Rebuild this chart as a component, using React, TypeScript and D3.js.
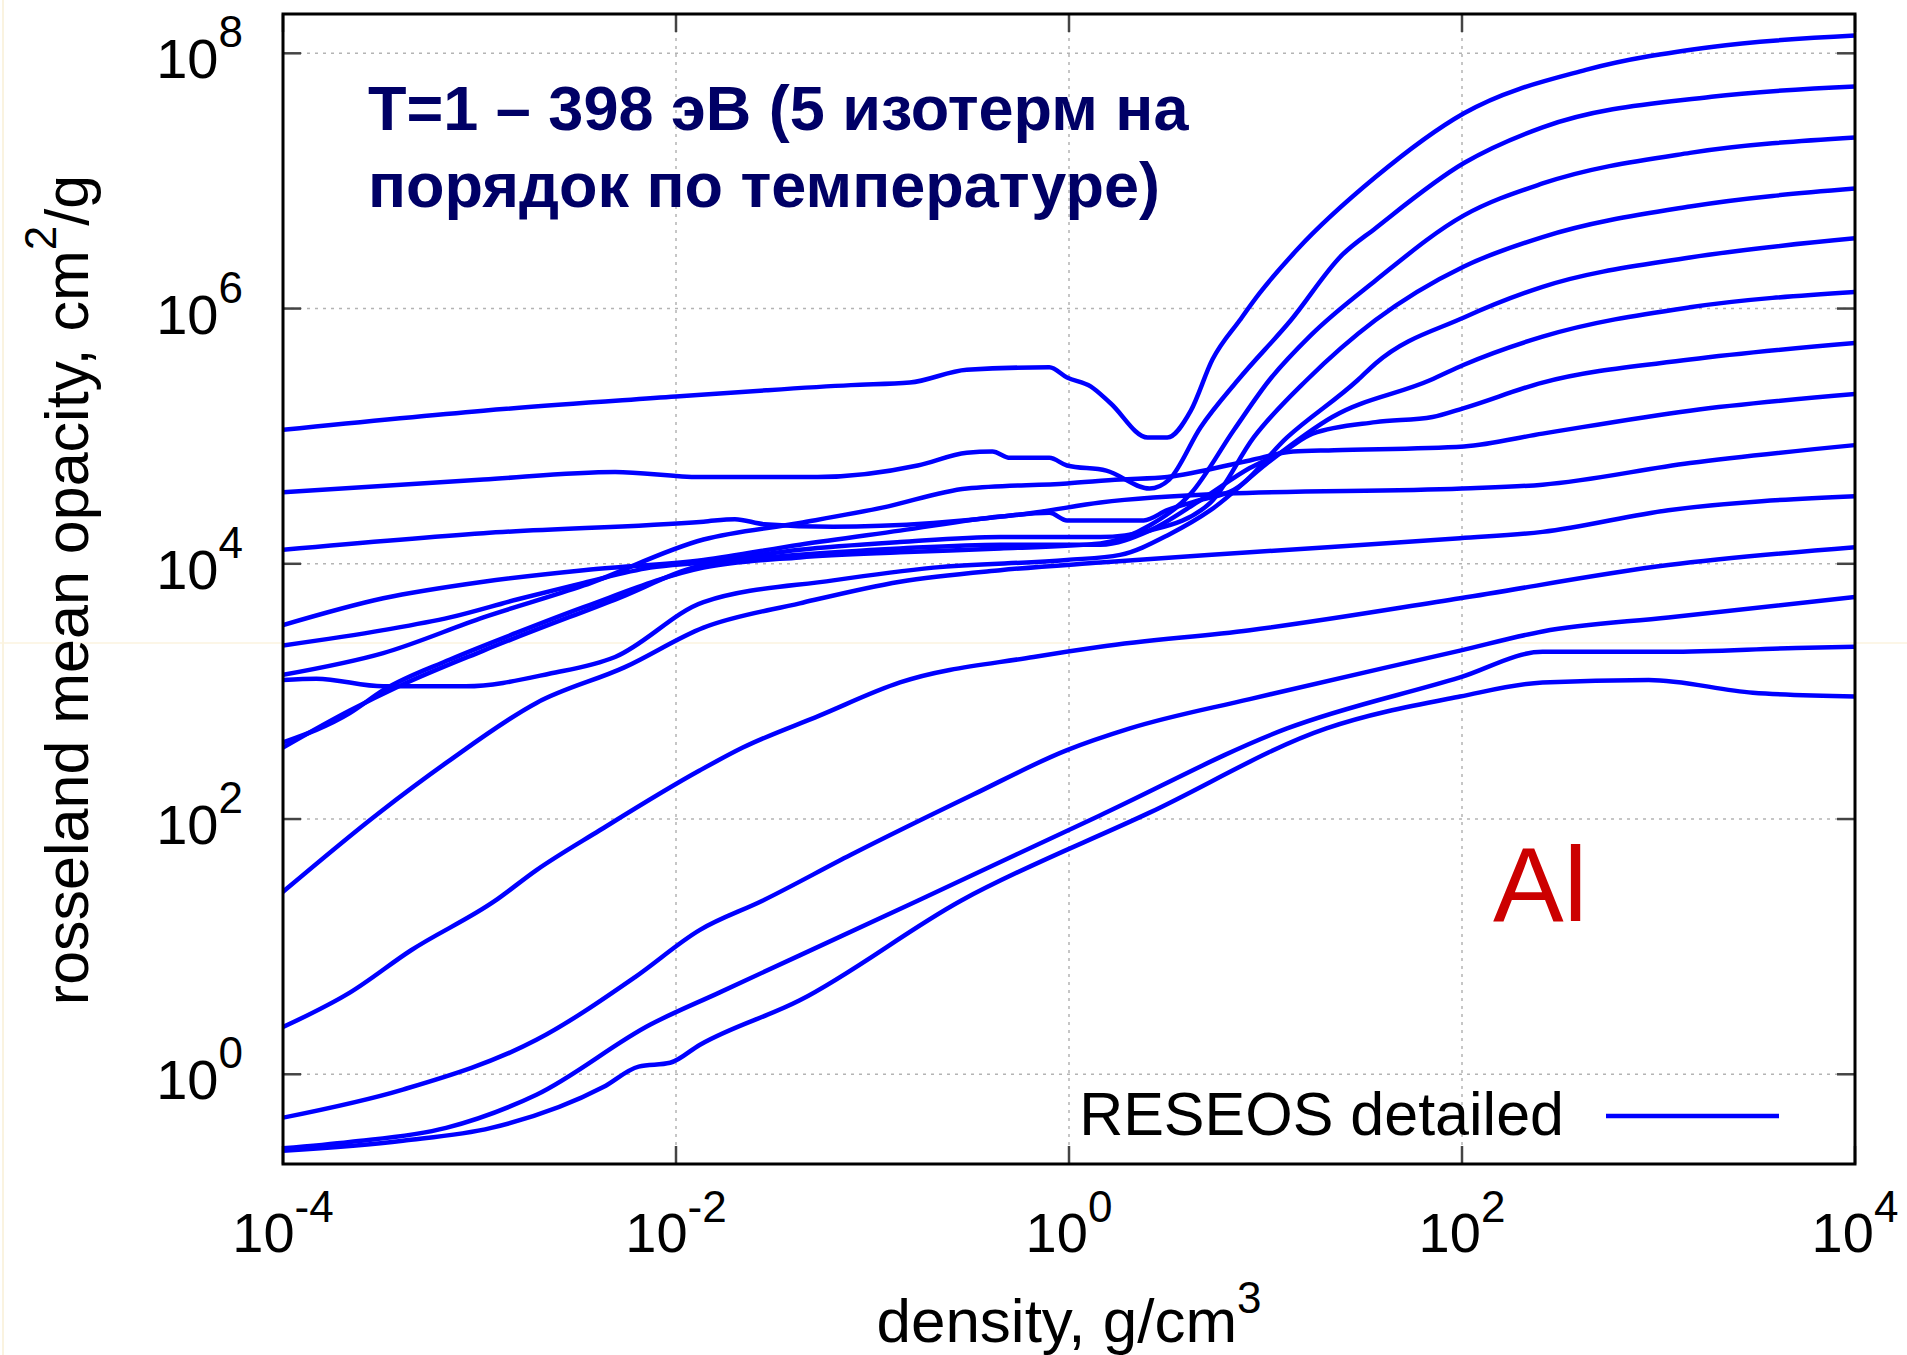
import React from "react";
import * as d3 from "d3";

// tick exponents (labels are 10^n)
const xExponents = [-4, -2, 0, 2, 4];
const yExponents = [0, 2, 4, 6, 8];

// isotherms as [log10 density, log10 opacity]
// ordered by where they end at rho = 1e4 (top to bottom)
const iso1 = [[-4, 5.05], [-2.98, 5.2], [-2.0, 5.31], [-1.54, 5.36], [-1.11, 5.4], [-0.81, 5.42], [-0.52, 5.52], [-0.1, 5.54], [-0.01, 5.46], [0.11, 5.39], [0.21, 5.26], [0.4, 4.99], [0.5, 4.99], [0.62, 5.2], [0.73, 5.6], [0.87, 5.91], [0.97, 6.12], [1.16, 6.46], [1.56, 7.03], [2.01, 7.53], [2.63, 7.87], [3.27, 8.05], [4, 8.14]];
const iso2 = [[-4, 4.56], [-2.98, 4.66], [-2.31, 4.72], [-1.88, 4.68], [-1.28, 4.68], [-0.77, 4.77], [-0.52, 4.87], [-0.39, 4.88], [-0.3, 4.83], [-0.1, 4.83], [-0.01, 4.77], [0.19, 4.73], [0.41, 4.59], [0.51, 4.66], [0.67, 5.07], [0.86, 5.44], [1.13, 5.91], [1.39, 6.42], [1.56, 6.63], [2.01, 7.14], [2.41, 7.42], [3.27, 7.66], [4, 7.74]];
const iso3 = [[-4, 2.6], [-3.66, 2.83], [-3.49, 3.01], [-3.15, 3.25], [-2.81, 3.46], [-2.47, 3.66], [-1.86, 3.97], [-1.37, 4.05], [-0.86, 4.09], [-0.35, 4.12], [0.16, 4.16], [0.41, 4.3], [0.62, 4.55], [0.84, 5.05], [1.02, 5.44], [1.23, 5.79], [1.56, 6.22], [2.01, 6.73], [2.41, 6.98], [3.16, 7.22], [4, 7.34]];
const iso4 = [[-4, 3.36], [-3.49, 3.48], [-3.15, 3.58], [-2.81, 3.72], [-2.47, 3.85], [-2.13, 3.97], [-1.86, 4.01], [-1.37, 4.11], [-0.86, 4.17], [-0.35, 4.21], [0.16, 4.21], [0.41, 4.26], [0.72, 4.48], [0.94, 4.99], [1.21, 5.44], [1.56, 5.91], [2.01, 6.33], [2.41, 6.56], [3.16, 6.8], [4, 6.94]];
const iso5 = [[-4, 3.52], [-3.49, 3.73], [-2.98, 3.86], [-2.47, 3.95], [-1.86, 4.03], [-1.37, 4.15], [-0.86, 4.26], [-0.35, 4.37], [-0.1, 4.4], [-0.01, 4.34], [0.38, 4.34], [0.5, 4.42], [0.67, 4.5], [0.84, 4.58], [1.11, 4.99], [1.47, 5.44], [1.56, 5.57], [2.01, 5.93], [2.41, 6.17], [3.16, 6.4], [4, 6.55]];
const iso6 = [[-4, 3.09], [-3.83, 3.1], [-3.49, 3.04], [-3.07, 3.04], [-2.64, 3.14], [-2.31, 3.27], [-1.86, 3.7], [-1.2, 3.87], [-0.69, 3.97], [-0.01, 4.03], [0.26, 4.07], [0.51, 4.23], [0.72, 4.42], [1.01, 4.79], [1.34, 5.15], [1.84, 5.44], [2.01, 5.56], [2.41, 5.78], [3.16, 6.01], [4, 6.13]];
const iso7 = [[-4, 2.56], [-3.66, 2.85], [-3.41, 3.04], [-2.98, 3.32], [-2.31, 3.72], [-1.86, 3.99], [-1.37, 4.07], [-0.86, 4.12], [-0.35, 4.15], [0.16, 4.15], [0.41, 4.26], [0.67, 4.5], [0.92, 4.75], [1.09, 4.88], [1.24, 5.02], [1.56, 5.11], [1.85, 5.15], [2.01, 5.22], [2.41, 5.42], [3.16, 5.6], [4, 5.73]];
const iso8 = [[-4, 3.13], [-3.49, 3.3], [-2.98, 3.58], [-2.47, 3.83], [-1.86, 4.19], [-1.37, 4.32], [-0.95, 4.44], [-0.52, 4.59], [-0.01, 4.63], [0.26, 4.66], [0.5, 4.68], [0.92, 4.81], [1.14, 4.88], [1.35, 4.89], [2.01, 4.92], [2.41, 5.02], [3.16, 5.2], [4, 5.33]];
const iso9 = [[-4, 4.11], [-2.98, 4.24], [-1.86, 4.33], [-1.7, 4.35], [-1.55, 4.31], [-1.2, 4.29], [-0.69, 4.32], [-0.18, 4.4], [0.16, 4.48], [0.8, 4.55], [2.0, 4.59], [2.41, 4.62], [3.16, 4.79], [4, 4.93]];
const iso10 = [[-4, 1.43], [-3.51, 2.05], [-3.17, 2.44], [-2.71, 2.91], [-2.26, 3.19], [-1.86, 3.5], [-1.37, 3.69], [-0.86, 3.86], [-0.35, 3.95], [0.16, 4.01], [0.92, 4.09], [1.99, 4.2], [2.41, 4.25], [3.05, 4.42], [4, 4.53]];
const iso11 = [[-4, 0.37], [-3.66, 0.64], [-3.35, 0.97], [-2.92, 1.36], [-2.71, 1.6], [-2.39, 1.91], [-1.88, 2.38], [-1.66, 2.56], [-1.27, 2.81], [-0.86, 3.07], [-0.18, 3.27], [0.16, 3.35], [0.92, 3.48], [1.99, 3.73], [3.05, 3.99], [4, 4.13]];
const iso12 = [[-4, -0.34], [-3.39, -0.12], [-2.71, 0.27], [-2.21, 0.76], [-1.88, 1.13], [-1.56, 1.36], [-1.11, 1.72], [-0.49, 2.19], [-0.01, 2.54], [0.31, 2.71], [0.92, 2.94], [1.99, 3.32], [2.41, 3.47], [3.05, 3.58], [4, 3.74]];
const iso13 = [[-4, -0.58], [-3.66, -0.53], [-3.17, -0.42], [-2.71, -0.16], [-2.13, 0.39], [-1.78, 0.64], [-0.77, 1.36], [0.16, 2.03], [1.11, 2.71], [1.99, 3.11], [2.41, 3.31], [3.05, 3.31], [3.7, 3.34], [4, 3.35]];
const iso14 = [[-4, -0.6], [-3.39, -0.52], [-2.94, -0.42], [-2.37, -0.1], [-2.19, 0.06], [-2.03, 0.09], [-1.88, 0.23], [-1.37, 0.58], [-0.55, 1.36], [0.41, 2.05], [1.31, 2.71], [1.99, 2.96], [2.41, 3.07], [2.95, 3.09], [3.48, 2.99], [4, 2.96]];

const isotherms = [iso1, iso2, iso3, iso4, iso5, iso6, iso7, iso8, iso9, iso10, iso11, iso12, iso13, iso14];

const titleLines = ["T=1 – 398 эВ (5 изотерм на", "порядок по температуре)"];
const legendLabel = "RESEOS detailed";
const elementLabel = "Al";

const W = 1907;
const H = 1355;
const left = 283;
const right = 1855;
const top = 14;
const bottom = 1164;
const font = "'Liberation Sans', Arial, Helvetica, sans-serif";
const blue = "#0000ff";

export default function App() {
  const x = d3.scaleLog().domain([1e-4, 1e4]).range([left, right]);
  const y = d3.scaleLog().domain([10 ** -0.703, 10 ** 8.308]).range([bottom, top]);

  const line = d3
    .line<number[]>()
    .x((d) => x(10 ** d[0]))
    .y((d) => y(10 ** d[1]))
    .curve(d3.curveMonotoneX);

  const tickLen = 18;

  return (
    <svg
      width={W}
      height={H}
      style={{ position: "absolute", left: 0, top: 0, display: "block", background: "#fff" }}
      fontFamily={font}
    >
      <rect x={0} y={0} width={W} height={H} fill="#fff" />
      {/* faint scan lines of the original */}
      <line x1={3} x2={3} y1={0} y2={H} stroke="#f8efd6" strokeWidth={1.5} />
      <line x1={0} x2={W} y1={643} y2={643} stroke="#fbf3df" strokeWidth={1.5} />

      <defs>
        <clipPath id="plot">
          <rect x={left} y={top} width={right - left} height={bottom - top} />
        </clipPath>
      </defs>

      {/* grid */}
      {xExponents.slice(1, -1).map((e) => (
        <line key={"gx" + e} x1={x(10 ** e)} x2={x(10 ** e)} y1={top} y2={bottom}
          stroke="#b4b4b4" strokeWidth={1.5} strokeDasharray="3,5" />
      ))}
      {yExponents.map((e) => (
        <line key={"gy" + e} x1={left} x2={right} y1={y(10 ** e)} y2={y(10 ** e)}
          stroke="#b4b4b4" strokeWidth={1.5} strokeDasharray="3,5" />
      ))}

      {/* ticks (inward, all four sides) */}
      {xExponents.map((e) => (
        <g key={"tx" + e} stroke="#444" strokeWidth={2.5}>
          <line x1={x(10 ** e)} x2={x(10 ** e)} y1={bottom} y2={bottom - tickLen} />
          <line x1={x(10 ** e)} x2={x(10 ** e)} y1={top} y2={top + tickLen} />
        </g>
      ))}
      {yExponents.map((e) => (
        <g key={"ty" + e} stroke="#444" strokeWidth={2.5}>
          <line x1={left} x2={left + tickLen} y1={y(10 ** e)} y2={y(10 ** e)} />
          <line x1={right} x2={right - tickLen} y1={y(10 ** e)} y2={y(10 ** e)} />
        </g>
      ))}

      {/* curves */}
      <g clipPath="url(#plot)">
        {isotherms.map((d, i) => (
          <path key={i} d={line(d) || ""} fill="none" stroke={blue} strokeWidth={4.5}
            strokeLinejoin="round" strokeLinecap="round" />
        ))}
      </g>

      {/* frame */}
      <rect x={left} y={top} width={right - left} height={bottom - top}
        fill="none" stroke="#000" strokeWidth={3} />

      {/* x tick labels */}
      {xExponents.map((e) => (
        <text key={"lx" + e} x={x(10 ** e)} y={1252} textAnchor="middle" fontSize={56} fill="#000">
          10<tspan dy={-30} fontSize={44}>{e}</tspan>
        </text>
      ))}
      {/* y tick labels */}
      {yExponents.map((e) => (
        <text key={"ly" + e} x={243} y={y(10 ** e) + 25} textAnchor="end" fontSize={56} fill="#000">
          10<tspan dy={-31} fontSize={44}>{e}</tspan>
        </text>
      ))}

      {/* axis titles */}
      <text x={(left + right) / 2} y={1342} textAnchor="middle" fontSize={62} fill="#000">
        density, g/cm<tspan dy={-29} fontSize={44}>3</tspan>
      </text>
      <text transform={`translate(88, 590) rotate(-90)`} textAnchor="middle" fontSize={61} fill="#000">
        rosseland mean opacity, cm<tspan dy={-32} fontSize={44}>2</tspan>
        <tspan dy={32}>/g</tspan>
      </text>

      {/* annotation */}
      {titleLines.map((t, i) => (
        <text key={"t" + i} x={368} y={130 + i * 77} fontSize={63} fontWeight="bold" fill="#000066">
          {t}
        </text>
      ))}
      <text x={1493} y={921} fontSize={106} fill="#cc0000">{elementLabel}</text>

      {/* legend */}
      <text x={1564} y={1135} textAnchor="end" fontSize={61} fill="#000">{legendLabel}</text>
      <line x1={1606} x2={1779} y1={1116} y2={1116} stroke={blue} strokeWidth={4.5} />
    </svg>
  );
}
